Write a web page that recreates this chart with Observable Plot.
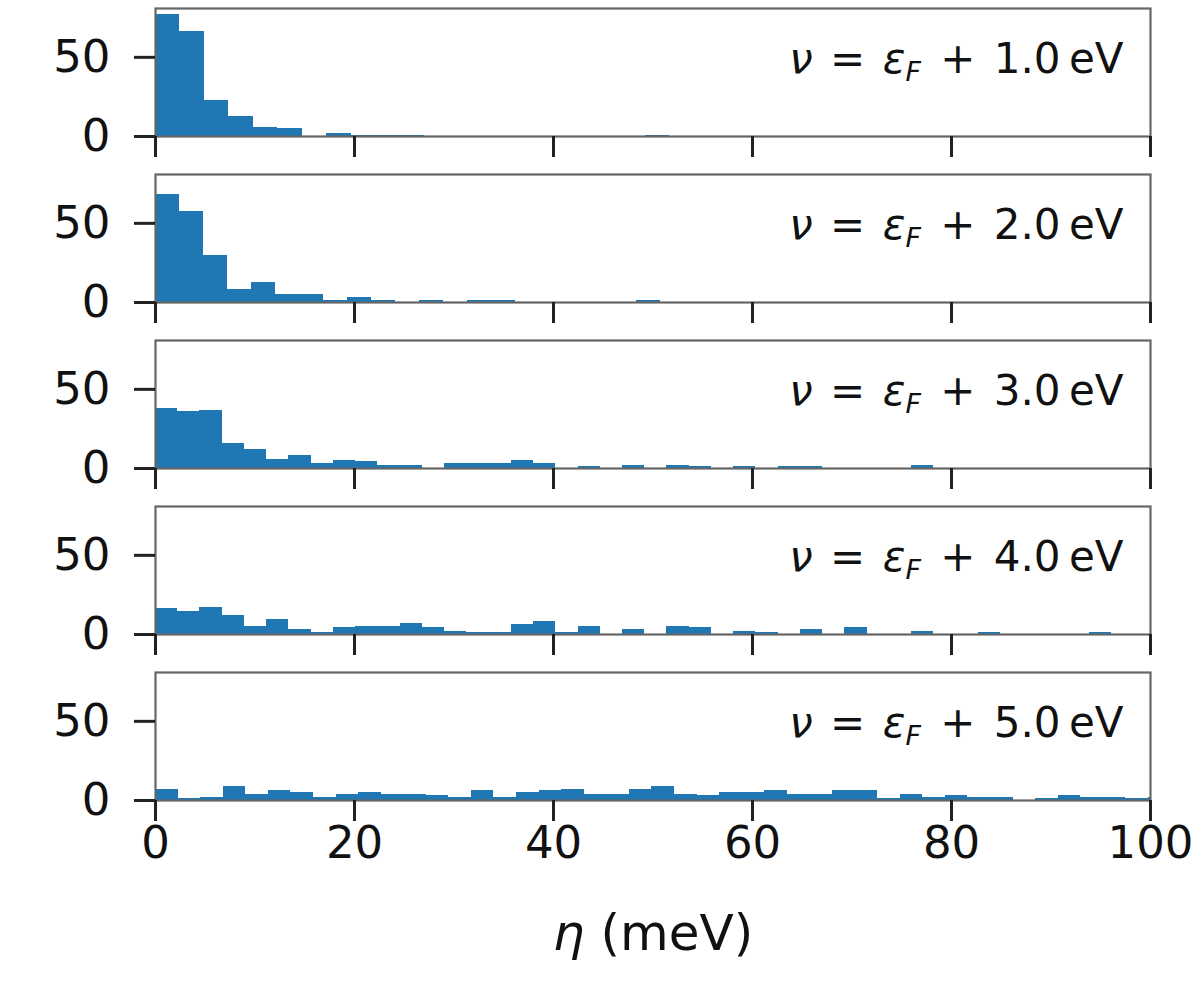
<!DOCTYPE html>
<html>
<head>
<meta charset="utf-8">
<script src="https://cdn.jsdelivr.net/npm/d3@7"></script>
<script src="https://cdn.jsdelivr.net/npm/@observablehq/plot@0.6"></script>
<style>
  html, body { margin: 0; padding: 0; background: #fff; }
  #chart > * { display: block; margin: 0; }
</style>
</head>
<body>
<div id="chart"></div>
<script>
// Bin widths (meV) per panel
const binWidths = [2.46, 2.415, 2.235, 2.235, 2.268];
// Histogram heights per panel
const counts1 = [77, 66.2, 22.6, 12.4, 5.5, 4.9, 0, 1.7, 0.4, 0.4, 0.4, 0, 0, 0, 0, 0, 0, 0, 0, 0, 0.4];
const counts2 = [68.5, 57.3, 29.8, 7.9, 12.9, 4.8, 4.8, 1, 2.9, 1, 0, 1, 0, 1, 1, 0, 0, 0, 0, 0, 1];
const counts3 = [37.9, 36, 36.7, 16, 11.7, 6, 7.9, 2.9, 4.8, 4.2, 1.7, 1.7, 0, 2.9, 2.9, 2.9, 4.8, 2.9, 0, 1.2, 0, 2, 0, 2, 1.2, 0, 1.2, 0, 1.2, 1.2, 0, 0, 0, 0, 2];
const counts4 = [16.7, 14.8, 17.3, 12.2, 5.3, 9.7, 3.4, 1.5, 4.6, 5.3, 5.3, 7.2, 4.6, 2.1, 1.5, 1.5, 6.5, 8.4, 1.5, 5.3, 0, 3.4, 0, 5.3, 4.6, 0, 2.1, 1.5, 0, 3.4, 0, 4.6, 0, 0, 2.1, 0, 0, 1.5, 0, 0, 0, 0, 1.5];
const counts5 = [6.8, 1.1, 1.7, 8.6, 3.6, 6.1, 4.9, 1.7, 3.6, 4.9, 3.6, 3.6, 3.0, 1.7, 6.1, 1.7, 4.9, 6.1, 6.8, 3.6, 3.6, 6.8, 8.6, 3.6, 3.0, 4.9, 4.9, 6.1, 3.6, 3.6, 6.1, 6.1, 1.1, 3.6, 1.7, 3.0, 1.7, 1.7, 0, 1.1, 3.0, 1.7, 1.7, 1.1, 1.7];
const allCounts = [counts1, counts2, counts3, counts4, counts5];
const energies = ["1.0", "2.0", "3.0", "4.0", "5.0"];
const xTicks = [0, 20, 40, 60, 80, 100];
const yTicks = [0, 50];
const xLabel = "η (meV)";

const blue = "#1f77b4";
const font = "'DejaVu Sans', sans-serif";
const yMax = d3.max(counts1) * 1.05;
const chart = document.getElementById("chart");

allCounts.forEach((counts, p) => {
  const w = binWidths[p];
  const data = counts.map((c, i) => ({x1: i * w, x2: (i + 1) * w, y: c}));
  const last = p === allCounts.length - 1;
  const annot = "ν = εF + " + energies[p] + " eV";
  const marks = [
    Plot.rectY(data, {x1: "x1", x2: "x2", y: "y", fill: blue, inset: 0, clip: true, shapeRendering: "crispEdges"}),
    Plot.frame({stroke: "#666", strokeWidth: 2.2}),
    Plot.axisX({ticks: xTicks, tickSize: 21, tickPadding: 5, strokeWidth: 3, stroke: "#222",
                tickFormat: last ? (d => String(d)) : (() => ""), label: null,
                fontSize: 45, fill: "#111"}),
    Plot.axisY({ticks: yTicks, tickSize: 21, tickPadding: 24, strokeWidth: 3, stroke: "#222",
                label: null, fontSize: 45, fill: "#111"}),
    Plot.text([annot], {text: d => d, frameAnchor: "top-right", dx: -27, dy: 35,
                textAnchor: "end", lineAnchor: "top", fontSize: 42, fill: "#111"})
  ];
  if (last) {
    marks.push(Plot.text([xLabel], {text: d => d, frameAnchor: "bottom", dy: 114,
                lineAnchor: "top", fontSize: 50, fill: "#111"}));
  }
  const svg = Plot.plot({
    width: 1200,
    height: last ? 316 : 166,
    marginLeft: 155, marginRight: 50, marginTop: 8, marginBottom: last ? 180 : 30,
    x: {domain: [0, 100]},
    y: {domain: [0, yMax]},
    style: {fontFamily: font, background: "#fff", overflow: "visible"},
    marks
  });
  // rich text formatting (italic math symbols, subscript, math spacing)
  d3.select(svg).selectAll("text").each(function() {
    const t = d3.select(this);
    const s = this.textContent;
    if (s === annot) {
      t.text(null);
      const fs = 42, sub = 0.64 * fs, shift = 8, gap = 4;
      t.append("tspan").attr("font-style", "italic").text("ν");
      t.append("tspan").attr("dx", gap).text(" =");
      t.append("tspan").attr("dx", gap).text(" ");
      t.append("tspan").attr("font-style", "italic").text("ε");
      t.append("tspan").attr("font-style", "italic").attr("font-size", sub).attr("dy", shift).text("F");
      t.append("tspan").attr("dy", -shift).attr("dx", gap + 2).text(" +");
      t.append("tspan").attr("dx", gap + 1).text(" " + energies[p] + "\u2009eV");
    } else if (s === xLabel) {
      t.text(null);
      t.append("tspan").attr("font-style", "italic").text("η");
      t.append("tspan").text(" (meV)");
    }
  });
  chart.appendChild(svg);
});
</script>
</body>
</html>
